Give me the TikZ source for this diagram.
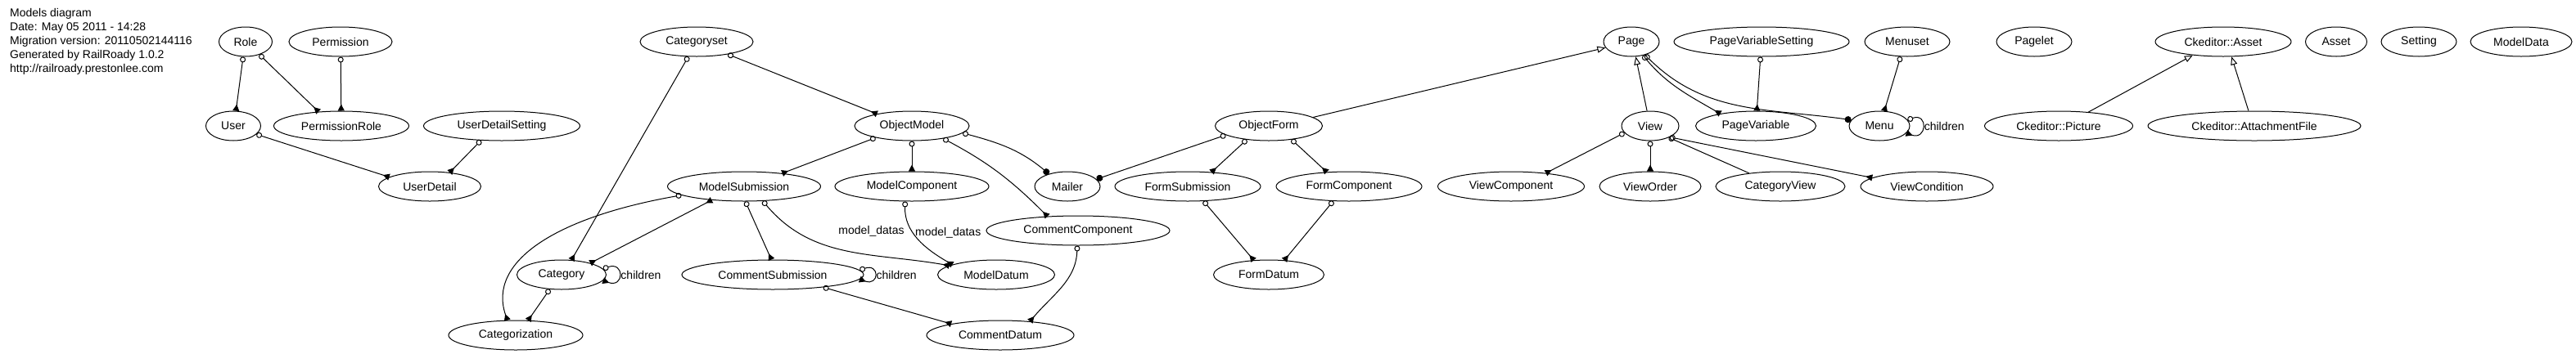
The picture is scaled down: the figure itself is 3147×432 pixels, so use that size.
\documentclass[tikz,border=0pt]{standalone}
\usepackage{fontspec}
\setmainfont{Liberation Sans}
\usepackage{tikz}
\usetikzlibrary{arrows.meta, positioning, shapes.geometric}
\tikzset{
    model/.style={
        ellipse,
        draw,
        line width=1pt,
        minimum width=#1,
        minimum height=36pt,
        inner sep=0pt,
        font=\fontsize{14}{17}\selectfont
    },
    header/.style={
        align=left,
        inner sep=0pt,
        font=\fontsize{14}{17}\selectfont
    },
    hasmany/.style={
        {Circle[open, length=7pt]}-{Triangle[reversed, length=8pt, width=8pt]},
        line width=1pt
    },
    hasone/.style={
        {Circle[open, length=7pt]}-{Circle[length=8pt]},
        line width=1pt
    },
    habtm/.style={
        {Triangle[reversed, length=8pt, width=8pt]}-{Triangle[reversed, length=8pt, width=8pt]},
        line width=1pt
    },
    through/.style={
        {Circle[open, length=7pt]}-,
        line width=1pt
    },
    isa/.style={
        -{Triangle[open, length=10pt, width=8pt]},
        line width=1pt
    },
    lbl/.style={font=\fontsize{14}{17}\selectfont, inner sep=1.5pt}
}
\begin{document}
\begin{tikzpicture}[x=1pt, y=1pt]
        \useasboundingbox (0,0) rectangle (3147,-432);
        \node[header, anchor=north west] (legend) at (12,-10)
            {Models diagram\\Date: May 05 2011 - 14:28\\Migration version: 20110502144116\\Generated by RailRoady 1.0.2\\http://railroady.prestonlee.com};

        % top row
        \node[model=65pt]  (role)                at (300,-51)  {Role};
        \node[model=126pt] (permission)          at (416,-51)  {Permission};
        \node[model=138pt] (categoryset)         at (851,-51)  {Categoryset};
        \node[model=68pt]  (page)                at (1993,-51) {Page};
        \node[model=214pt] (pagevariablesetting) at (2152,-51) {PageVariableSetting};
        \node[model=104pt] (menuset)             at (2330,-51) {Menuset};
        \node[model=92pt]  (pagelet)             at (2485,-51) {Pagelet};
        \node[model=166pt] (ckasset)             at (2716,-51) {Ckeditor::Asset};
        \node[model=75pt]  (asset)               at (2854,-51) {Asset};
        \node[model=92pt]  (setting)             at (2955,-51) {Setting};
        \node[model=124pt] (modeldata)           at (3080,-51) {ModelData};
        % second row
        \node[model=67pt]  (user)                at (285,-154)  {User};
        \node[model=165pt] (permissionrole)      at (417,-154)  {PermissionRole};
        \node[model=191pt] (userdetailsetting)   at (613,-154)  {UserDetailSetting};
        \node[model=140pt] (objectmodel)         at (1114,-154) {ObjectModel};
        \node[model=131pt] (objectform)          at (1550,-154) {ObjectForm};
        \node[model=70pt]  (view)                at (2016,-154) {View};
        \node[model=147pt] (pagevariable)        at (2145,-154) {PageVariable};
        \node[model=74pt]  (menu)                at (2296,-154) {Menu};
        \node[model=181pt] (ckpicture)           at (2515,-154) {Ckeditor::Picture};
        \node[model=260pt] (ckattachment)        at (2754,-154) {Ckeditor::AttachmentFile};
        % third row
        \node[model=125pt] (userdetail)          at (525,-228)  {UserDetail};
        \node[model=187pt] (modelsubmission)     at (909,-228)  {ModelSubmission};
        \node[model=188pt] (modelcomponent)      at (1114,-228) {ModelComponent};
        \node[model=80pt]  (mailer)              at (1304,-228) {Mailer};
        \node[model=178pt] (formsubmission)      at (1451,-228) {FormSubmission};
        \node[model=178pt] (formcomponent)       at (1648,-228) {FormComponent};
        \node[model=179pt] (viewcomponent)       at (1846,-228) {ViewComponent};
        \node[model=124pt] (vieworder)           at (2016,-228) {ViewOrder};
        \node[model=158pt] (categoryview)        at (2175,-228) {CategoryView};
        \node[model=162pt] (viewcondition)       at (2354,-228) {ViewCondition};
        % lower rows
        \node[model=224pt] (commentcomponent)    at (1317,-282) {CommentComponent};
        \node[model=109pt] (category)            at (686,-336)  {Category};
        \node[model=222pt] (commentsubmission)   at (944,-336)  {CommentSubmission};
        \node[model=143pt] (modeldatum)          at (1217,-336) {ModelDatum};
        \node[model=135pt] (formdatum)           at (1550,-336) {FormDatum};
        \node[model=164pt] (categorization)      at (630,-410)  {Categorization};
        \node[model=180pt] (commentdatum)        at (1222,-410) {CommentDatum};

        \path
            (role.-99)               edge[hasmany] (user.80)
            (role.-43)               edge[hasmany] (permissionrole.148)
            (permission)             edge[hasmany] (permissionrole)
            (user.-20)               edge[hasmany] (userdetail.167)
            (userdetailsetting.-145) edge[hasmany] (userdetail.35)
            (categoryset.-119)       edge[hasmany] (category.56)
            (categoryset.-22)        edge[hasmany] (objectmodel.161)
            (objectmodel.-162)       edge[hasmany] (modelsubmission.19)
            (objectmodel)            edge[hasmany] (modelcomponent)
            (objectmodel.-22)        edge[hasmany, out=-28, in=135] (commentcomponent.155)
            (objectmodel.-8)         edge[hasone, out=-15, in=140] (mailer.146)
            (modelsubmission.-157)   edge[habtm] (category.22)
            (modelsubmission.-172)   edge[hasmany, out=190, in=109, out distance=156pt, in distance=76pt] (categorization.119)
            (category.-129)          edge[hasmany] (categorization.50)
            (category.8)             edge[hasmany, out=20, in=-20, min distance=28pt]
                                     node[lbl, right] {children} (category.-8)
            (modelsubmission.-85)    edge[hasmany] (commentsubmission.95)
            (modelsubmission.-38)    edge[hasmany, out=-50, in=170]
                                     node[lbl, pos=0.45, anchor=west, yshift=21pt] {model\_datas} (modeldatum.169)
            (modelcomponent.-114)    edge[hasmany, out=-92, in=150]
                                     node[lbl, pos=0.4, right] {model\_datas} (modeldatum.167)
            (commentsubmission.3)    edge[hasmany, out=20, in=-20, min distance=26pt]
                                     node[lbl, right] {children} (commentsubmission.-3)
            (commentsubmission.-14)  edge[hasmany] (commentdatum.167)
            (commentcomponent.-93)   edge[hasmany, out=-92, in=50] (commentdatum.25)
            (objectform.-168)        edge[hasone] (mailer.14)
            (objectform.-148)        edge[hasmany] (formsubmission.31)
            (objectform.-31)         edge[hasmany] (formcomponent.147)
            (formsubmission.-43)     edge[hasmany] (formdatum.136)
            (formcomponent.-137)     edge[hasmany] (formdatum.43)
            (objectform.11)          edge[isa] (page.-167)
            (view.102)               edge[isa] (page.-74)
            (page.-50)               edge[hasmany, out=-50, in=150] (pagevariable.161)
            (page.-44)               edge[hasone, out=-45, in=172] (menu.168)
            (pagevariablesetting)    edge[hasmany] (pagevariable)
            (menuset.-114)           edge[hasmany] (menu.72)
            (menu.12)                edge[hasmany, out=20, in=-20, min distance=27pt]
                                     node[lbl, right] {children} (menu.-15)
            (view.-165)              edge[hasmany] (viewcomponent.21)
            (view)                   edge[hasmany] (vieworder)
            (view.-32)               edge[through] (categoryview.157)
            (view.-30)               edge[hasmany] (viewcondition.171)
            (ckpicture.25)           edge[isa] (ckasset.-156)
            (ckattachment.111)       edge[isa] (ckasset.-61);
\end{tikzpicture}
\end{document}
